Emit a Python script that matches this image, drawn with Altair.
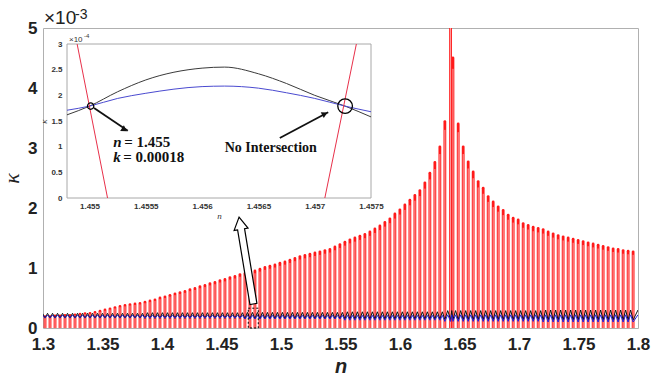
import altair as alt
import pandas as pd

# ---------------- main chart data (kappa in units of 1e-3) ----------------
spike_n = [
    1.3017, 1.3059, 1.3101, 1.3143, 1.3185, 1.3227, 1.3269, 1.3311, 1.3353, 1.3395,
    1.3437, 1.3479, 1.3521, 1.3563, 1.3605, 1.3647, 1.3689, 1.3731, 1.3773, 1.3815,
    1.3857, 1.3899, 1.3941, 1.3983, 1.4025, 1.4067, 1.4109, 1.4151, 1.4193, 1.4235,
    1.4277, 1.4319, 1.4361, 1.4403, 1.4445, 1.4487, 1.4529, 1.4571, 1.4613, 1.4655,
    1.4697, 1.4739, 1.4781, 1.4823, 1.4865, 1.4907, 1.4949, 1.4991, 1.5033, 1.5075,
    1.5117, 1.5159, 1.5201, 1.5243, 1.5285, 1.5327, 1.5369, 1.5411, 1.5453, 1.5495,
    1.5537, 1.5579, 1.5621, 1.5663, 1.5705, 1.5747, 1.5789, 1.5831, 1.5873, 1.5915,
    1.5957, 1.5999, 1.6041, 1.6083, 1.6125, 1.6167, 1.6209, 1.6251, 1.6293, 1.6335,
    1.6377, 1.6425, 1.6445, 1.6489, 1.6531, 1.6573, 1.6615, 1.6657, 1.6699, 1.6741,
    1.6783, 1.6825, 1.6867, 1.6909, 1.6951, 1.6993, 1.7035, 1.7077, 1.7119, 1.7161,
    1.7203, 1.7245, 1.7287, 1.7329, 1.7371, 1.7413, 1.7455, 1.7497, 1.7539, 1.7581,
    1.7623, 1.7665, 1.7707, 1.7749, 1.7791, 1.7833, 1.7875, 1.7917, 1.7959,
]
spike_k = [
    0.19, 0.19, 0.20, 0.20, 0.21, 0.21, 0.22, 0.23, 0.24, 0.245,
    0.26, 0.28, 0.30, 0.32, 0.34, 0.36, 0.375, 0.39, 0.40, 0.41,
    0.43, 0.45, 0.47, 0.50, 0.52, 0.545, 0.57, 0.59, 0.61, 0.64,
    0.66, 0.69, 0.71, 0.74, 0.76, 0.79, 0.81, 0.84, 0.86, 0.89,
    0.91, 0.93, 0.95, 0.98, 1.01, 1.03, 1.05, 1.08, 1.10, 1.13,
    1.16, 1.19, 1.21, 1.23, 1.25, 1.27, 1.29, 1.31, 1.35, 1.39,
    1.43, 1.47, 1.50, 1.53, 1.56, 1.60, 1.65, 1.70, 1.76, 1.82,
    1.90, 1.97, 2.05, 2.13, 2.21, 2.29, 2.42, 2.58, 2.76, 3.02,
    3.44, 7.00, 4.50, 3.40, 3.02, 2.77, 2.60, 2.44, 2.33, 2.19,
    2.10, 2.02, 1.96, 1.88, 1.83, 1.80, 1.74, 1.71, 1.68, 1.66,
    1.64, 1.60, 1.57, 1.54, 1.52, 1.50, 1.48, 1.46, 1.44, 1.42,
    1.40, 1.38, 1.36, 1.34, 1.32, 1.31, 1.29, 1.28, 1.27,
]
# black / blue oscillating curves: crest and trough levels, one per block of 20 periods
black_top = [0.245, 0.255, 0.26, 0.27, 0.29, 0.30]
black_bot = [0.165, 0.16, 0.155, 0.15, 0.14, 0.135]
blue_top = [0.215, 0.21, 0.21, 0.21, 0.22, 0.22]
blue_bot = [0.17, 0.165, 0.15, 0.13, 0.11, 0.10]

x_ticks = [1.3, 1.35, 1.4, 1.45, 1.5, 1.55, 1.6, 1.65, 1.7, 1.75, 1.8]
y_ticks = [0, 1, 2, 3, 4, 5]

# ---------------- inset data (kappa in units of 1e-4) ----------------
inset_n = [1.4548, 1.4550, 1.45525, 1.4555, 1.4560, 1.4562, 1.4565, 1.45675, 1.4570, 1.45727, 1.4575]
inset_black = [1.62, 1.79, 2.07, 2.30, 2.53, 2.55, 2.42, 2.23, 2.00, 1.79, 1.58]
inset_blue = [1.71, 1.79, 1.94, 2.04, 2.17, 2.18, 2.14, 2.05, 1.94, 1.79, 1.68]
inset_red_n = [1.45489, 1.45516, 1.45709, 1.45737]
inset_red_k = [3.0, 0.0, 0.0, 3.0]
inset_red_grp = ["a", "a", "b", "b"]
circle_n = [1.45501, 1.45727]
circle_k = [1.79, 1.79]
inset_x_ticks = [1.455, 1.4555, 1.456, 1.4565, 1.457, 1.4575]
inset_y_ticks = [0, 0.5, 1, 1.5, 2, 2.5, 3]

SANS = "Liberation Sans"
SERIF = "Liberation Serif"

# ---------------- build tables ----------------
spikes = pd.DataFrame({"x": spike_n, "y": spike_k})
spikes["y0"] = 0.0
spikes["yp"] = spikes["y"] * 0.96


def zigzag(top, bot):
    rows = []
    o = 0
    rows.append({"x": 1.2996, "y": top[0], "o": o})
    for i, n in enumerate(spike_n):
        b = min(i // 20, len(top) - 1)
        o += 1
        rows.append({"x": n, "y": bot[b], "o": o})
        if i + 1 < len(spike_n):
            o += 1
            rows.append({"x": (n + spike_n[i + 1]) / 2, "y": top[b], "o": o})
    o += 1
    rows.append({"x": 1.8, "y": top[-1], "o": o})
    return pd.DataFrame(rows)


black_df = zigzag(black_top, black_bot)
blue_df = zigzag(blue_top, blue_bot)

xs = alt.Scale(domain=[1.3, 1.8], nice=False, zero=False)
ys = alt.Scale(domain=[0, 5], nice=False, zero=False)

x_axis = alt.Axis(values=x_ticks, format=".2~f", title="n", grid=False, ticks=False, tickSize=0,
                  domain=False, labelFont=SANS, labelFontSize=17, labelFontWeight="bold",
                  labelColor="#222222", labelPadding=8, labelFlush=False,
                  titleFont=SANS, titleFontSize=20, titleFontWeight="bold", titleFontStyle="italic",
                  titleColor="#222222", titlePadding=4, orient="bottom")
y_axis = alt.Axis(values=y_ticks, format="d", title="κ", grid=False, ticks=False, tickSize=0,
                  domain=False, labelFont=SANS, labelFontSize=17, labelFontWeight="bold",
                  labelColor="#222222", labelPadding=6, labelFlush=False, labelBaseline="middle",
                  titleFont=SERIF, titleFontSize=22, titleFontWeight="normal", titleFontStyle="italic",
                  titleColor="#222222", titlePadding=4, orient="left")

X = alt.X("x:Q", scale=xs, axis=x_axis)
Y = alt.Y("y:Q", scale=ys, axis=y_axis)

red_outer = alt.Chart(spikes).mark_rule(color="#ff1a1a", strokeWidth=2.8, strokeCap="round", clip=True).encode(
    x=X, y=Y, y2="y0:Q")
red_inner = alt.Chart(spikes).mark_rule(color="#ffa0a0", strokeWidth=1.0, clip=True).encode(
    x=X, y=alt.Y("yp:Q", scale=ys, axis=y_axis), y2="y0:Q")

black_line = alt.Chart(black_df).mark_line(color="#111111", strokeWidth=1.0, clip=True).encode(
    x=X, y=Y, order="o:Q")
blue_line = alt.Chart(blue_df).mark_line(color="#2020e0", strokeWidth=1.0, clip=True).encode(
    x=X, y=Y, order="o:Q")

dash_df = pd.DataFrame({"x": [1.4725], "x2": [1.4809], "y": [0.0], "y2": [0.33]})
dash_box = alt.Chart(dash_df).mark_rect(fillOpacity=0, stroke="#000000", strokeWidth=1,
                                        strokeDash=[2, 2]).encode(x=X, x2="x2:Q", y=Y, y2="y2:Q")

ARROW = "M 0 -1 L 0.16 -0.72 L 0.08 -0.72 L 0.08 1 L -0.08 1 L -0.08 -0.72 L -0.16 -0.72 Z"
arrow_df = pd.DataFrame({"x": [1.4708], "y": [1.125], "a": [350.6]})
big_arrow = alt.Chart(arrow_df).mark_point(shape=ARROW, filled=True, fill="#ffffff", stroke="#000000",
                                           strokeWidth=1.2, size=7744, opacity=1).encode(
    x=X, y=Y, angle=alt.Angle("a:Q", scale=None))

exp_df = pd.DataFrame({"x": [1.3], "y": [5.0]})
times10 = alt.Chart(exp_df).mark_text(text="×10", font=SANS, fontSize=19, align="left",
                                      baseline="alphabetic", dx=1, dy=-4, color="#222222").encode(x=X, y=Y)
exp3 = alt.Chart(exp_df).mark_text(text="-3", font=SANS, fontSize=14, align="left",
                                   baseline="alphabetic", dx=32, dy=-9, color="#222222").encode(x=X, y=Y)

main = alt.layer(red_outer, red_inner, black_line, blue_line, dash_box, big_arrow, times10, exp3)

# ---------------- inset ----------------
xi = alt.Scale(domain=[1.4548, 1.4575], range=[24, 328], nice=False, zero=False)
yi = alt.Scale(domain=[0, 3], range=[170, 16], nice=False, zero=False)
xi_axis = alt.Axis(values=inset_x_ticks, format=".4~f", title="n", grid=False, ticks=False, tickSize=0,
                   domain=False, labelFont=SANS, labelFontSize=8, labelFontWeight="bold",
                   labelColor="#333333", labelPadding=4, labelFlush=False, orient="bottom", offset=-130,
                   titleFont=SERIF, titleFontSize=9, titleFontWeight="normal", titleFontStyle="italic",
                   titleColor="#333333", titlePadding=1, zindex=1)
yi_axis = alt.Axis(values=inset_y_ticks, format=".1~f", title="κ", grid=False, ticks=False, tickSize=0,
                   domain=False, labelFont=SANS, labelFontSize=8, labelFontWeight="bold",
                   labelColor="#333333", labelPadding=5, labelFlush=False, orient="left", offset=-24,
                   titleFont=SERIF, titleFontSize=9, titleFontWeight="normal", titleFontStyle="italic",
                   titleColor="#333333", titlePadding=2, zindex=1)
XI = alt.X("x:Q", scale=xi, axis=xi_axis)
YI = alt.Y("y:Q", scale=yi, axis=yi_axis)

frame_df = pd.DataFrame({"x": [1.4548], "x2": [1.4575], "y": [0.0], "y2": [3.0]})
inset_frame = alt.Chart(frame_df).mark_rect(fill="#ffffff", stroke="#a8a8a8", strokeWidth=1).encode(
    x=XI, x2="x2:Q", y=YI, y2="y2:Q")

ib = pd.DataFrame({"x": inset_n, "y": inset_black})
iu = pd.DataFrame({"x": inset_n, "y": inset_blue})
ir = pd.DataFrame({"x": inset_red_n, "y": inset_red_k, "g": inset_red_grp})
inset_black_l = alt.Chart(ib).mark_line(color="#3a3a3a", strokeWidth=1, interpolate="monotone").encode(x=XI, y=YI)
inset_blue_l = alt.Chart(iu).mark_line(color="#4a4ad0", strokeWidth=1, interpolate="monotone").encode(x=XI, y=YI)
inset_red_l = alt.Chart(ir).mark_line(color="#e8304a", strokeWidth=1).encode(x=XI, y=YI, detail="g:N")

circ = pd.DataFrame({"x": circle_n, "y": circle_k, "s": [40, 215]})
circles = alt.Chart(circ).mark_point(shape="circle", filled=False, color="#000000", strokeWidth=1.3,
                                     opacity=1).encode(x=XI, y=YI, size=alt.Size("s:Q", scale=None, legend=None))

shafts = pd.DataFrame({"x": [1.45504, 1.45534, 1.45669, 1.45712],
                       "y": [1.753, 1.31, 1.169, 1.67], "g": ["a", "a", "b", "b"]})
shaft_l = alt.Chart(shafts).mark_line(color="#111111", strokeWidth=1.8).encode(x=XI, y=YI, detail="g:N")
heads = pd.DataFrame({"x": [1.45531, 1.45709], "y": [1.33, 1.64], "a": [124, 63]})
head_p = alt.Chart(heads).mark_point(shape="triangle-up", filled=True, color="#111111", size=45,
                                     opacity=1).encode(x=XI, y=YI, angle=alt.Angle("a:Q", scale=None))

ann = pd.DataFrame({"x": [1.45521], "y": [1.09], "y2": [0.80]})
t_n = alt.Chart(ann).mark_text(text="n", font=SERIF, fontSize=15, fontWeight="bold", fontStyle="italic",
                               align="left", color="#111111").encode(x=XI, y=YI)
t_n2 = alt.Chart(ann).mark_text(text="= 1.455", font=SERIF, fontSize=15, fontWeight="bold",
                                align="left", dx=11, color="#111111").encode(x=XI, y=YI)
t_k = alt.Chart(ann).mark_text(text="k", font=SERIF, fontSize=15, fontWeight="bold", fontStyle="italic",
                               align="left", color="#111111").encode(x=XI, y=alt.Y("y2:Q", scale=yi, axis=yi_axis))
t_k2 = alt.Chart(ann).mark_text(text="= 0.00018", font=SERIF, fontSize=15, fontWeight="bold",
                                align="left", dx=10, color="#111111").encode(x=XI, y=alt.Y("y2:Q", scale=yi, axis=yi_axis))
ni = pd.DataFrame({"x": [1.45661], "y": [0.974]})
t_ni = alt.Chart(ni).mark_text(text="No Intersection", font=SERIF, fontSize=14, fontWeight="bold",
                               align="center", color="#111111").encode(x=XI, y=YI)
ie = pd.DataFrame({"x": [1.4548], "y": [3.0]})
t_e = alt.Chart(ie).mark_text(text="×10", font=SANS, fontSize=8, align="left", baseline="alphabetic",
                              dx=2, dy=-2, color="#333333").encode(x=XI, y=YI)
t_e4 = alt.Chart(ie).mark_text(text="-4", font=SANS, fontSize=6, align="left", baseline="alphabetic",
                               dx=17, dy=-6, color="#333333").encode(x=XI, y=YI)

inset = alt.layer(inset_frame, inset_black_l, inset_blue_l, inset_red_l, circles, shaft_l, head_p,
                  t_n, t_n2, t_k, t_k2, t_ni, t_e, t_e4)

chart = alt.layer(main, inset).resolve_scale(x="independent", y="independent").resolve_axis(
    x="independent", y="independent").properties(
    width=595, height=300,
    autosize=alt.AutoSizeParams(type="none"),
    padding={"left": 43, "top": 28, "right": 24, "bottom": 50},
    background="#ffffff",
).configure_view(stroke="#b0b0b0", strokeWidth=1)

chart.save("out.html", embed_options={"renderer": "svg", "actions": False})
